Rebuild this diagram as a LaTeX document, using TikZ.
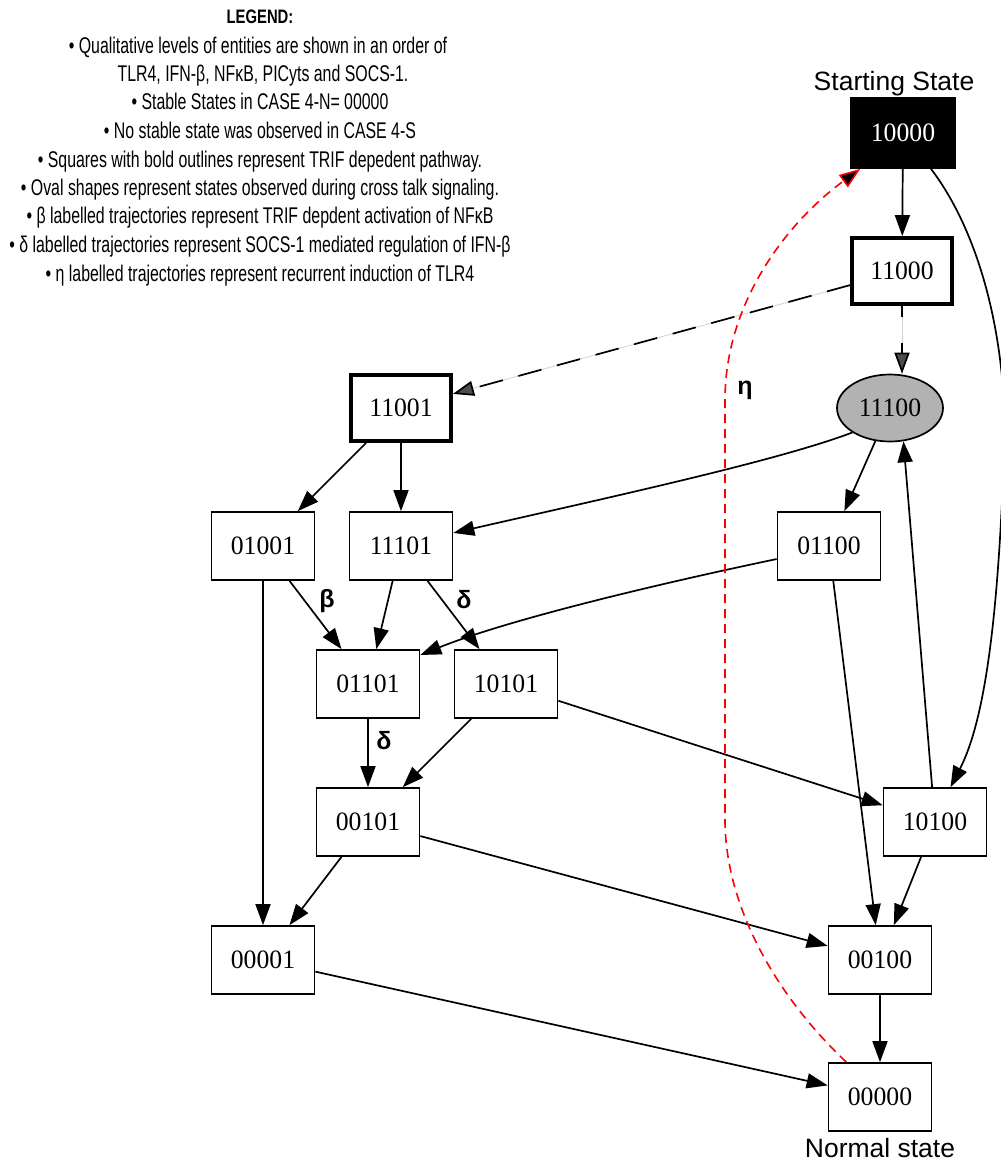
\documentclass[tikz,border=0pt]{standalone}
\usepackage{fontspec}
\setmainfont{Liberation Serif}[FakeStretch=0.97]
\newfontfamily\legfont[FakeStretch=0.70]{Liberation Sans}
\newfontfamily\legtitlefont[FakeStretch=0.76]{Liberation Sans}
\newfontfamily\lblfont{Liberation Sans}
\usetikzlibrary{arrows.meta,shapes.geometric}
\tikzset{
  state/.style={draw, line width=1.7pt, minimum width=103pt, minimum height=68pt, inner sep=0pt,
    font=\fontsize{26.5}{30}\selectfont},
  trif/.style={state, line width=3.8pt, minimum width=100pt, minimum height=66pt},
  start/.style={state, fill=black, text=white, minimum width=104pt, minimum height=70pt},
  oval/.style={ellipse, draw, line width=1.7pt, fill=black!30, minimum width=106pt, minimum height=67pt,
    inner sep=0pt, font=\fontsize{26.5}{30}\selectfont},
  legline/.style={anchor=base, inner sep=0pt, font=\legfont\fontsize{22.7}{26}\selectfont},
  legtitle/.style={anchor=base, inner sep=0pt, font=\legtitlefont\bfseries\fontsize{19.5}{23}\selectfont},
  caption/.style={anchor=base, inner sep=0pt, font=\lblfont\fontsize{26.5}{30}\selectfont},
  greek/.style={inner sep=0pt, font=\lblfont\bfseries\fontsize{25}{28}\selectfont},
  edge/.style={line width=1.7pt, -{Triangle[length=21pt,width=15pt]}},
  lightline/.style={line width=0.8pt, black!18},
  dashedge/.style={line width=1.7pt, -{Triangle[length=21pt,width=15pt,fill=black!70]}},
  etaedge/.style={line width=1.6pt, red, dash pattern=on 9pt off 6pt, -{Triangle[length=21pt,width=15pt,fill=black]}},
}
\begin{document}
\begin{tikzpicture}[x=1pt,y=-1pt]
\useasboundingbox (0,0) rectangle (1001,1163);

% legend
\node[legtitle] (leg0) at (260,23) {LEGEND:};
\node[legline] (leg1) at (258,53) {• Qualitative levels of entities are shown in an order of};
\node[legline] (leg2) at (263,81) {TLR4, IFN-β, NFκB, PICyts and SOCS-1.};
\node[legline] (leg3) at (260,109) {• Stable States in CASE 4-N= 00000};
\node[legline] (leg4) at (260,138) {• No stable state was observed in CASE 4-S};
\node[legline] (leg5) at (260,167) {• Squares with bold outlines represent TRIF depedent pathway.};
\node[legline] (leg6) at (260,195) {• Oval shapes represent states observed during cross talk signaling.};
\node[legline] (leg7) at (260,223) {• β labelled trajectories represent TRIF depdent activation of NFκB};
\node[legline] (leg8) at (260,252) {• δ labelled trajectories represent SOCS-1 mediated regulation of IFN-β};
\node[legline] (leg9) at (260,281) {• η labelled trajectories represent recurrent induction of TLR4};

% states
\node[start] (n10000) at (903,133) {10000};
\node[trif]  (n11000) at (902,271) {11000};
\node[oval]  (n11100) at (890,408) {11100};
\node[trif]  (n11001) at (401,408) {11001};
\node[state] (n01001) at (263,546) {01001};
\node[state] (n11101) at (401,546) {11101};
\node[state] (n01100) at (829,546) {01100};
\node[state] (n01101) at (368,684) {01101};
\node[state] (n10101) at (506,684) {10101};
\node[state] (n00101) at (368,822) {00101};
\node[state] (n10100) at (935,822) {10100};
\node[state] (n00001) at (263,960) {00001};
\node[state] (n00100) at (880,960) {00100};
\node[state] (n00000) at (880,1097) {00000};

\node[caption] (cap1) at (894,90) {Starting State};
\node[caption] (cap2) at (880,1157) {Normal state};

% edges
\draw[edge] (n10000) -- (n11000);
\draw[edge] (n10000.-52) .. controls (985,240) and (1012,360) .. (1003,480)
   .. controls (997,620) and (985,720) .. (n10100.66);
\draw[lightline] (n11000) -- (n11001);
\draw[dashedge, dash pattern=on 24pt off 16pt] (n11000) -- (n11001);
\draw[lightline] (n11000.south) -- (n11000.south |- n11100.north);
\draw[dashedge, dash pattern=on 11pt off 26pt] (n11000.south) -- (n11000.south |- n11100.north);
\draw[edge] (n11100.-147) .. controls (780,460) and (620,495) .. (n11101.14);
\draw[edge] (n11100) -- (n01100);
\draw[edge] (n11001) -- (n01001);
\draw[edge] (n11001) -- (n11101);
\draw[edge] (n01001) -- (n00001);
\draw[edge] (n01001) -- (n01101);
\draw[edge] (n11101) -- (n01101);
\draw[edge] (n11101) -- (n10101);
\draw[edge] (n01100.194) .. controls (700,575) and (520,615) .. (n01101.29);
\draw[edge] (n01100) -- (n00100);
\draw[edge] (n01101) -- (n00101);
\draw[edge] (n10101) -- (n00101);
\draw[edge] (n10101) -- (n10100);
\draw[edge] (n10100) -- (n11100.-68);
\draw[edge] (n10100) -- (n00100);
\draw[edge] (n00101) -- (n00001);
\draw[edge] (n00101) -- (n00100);
\draw[edge] (n00001) -- (n00000);
\draw[edge] (n00100) -- (n00000);
\draw[etaedge] (n00000.134) .. controls (770,990) and (725,900) .. (725,820)
   -- (725,400) .. controls (725,300) and (790,220) .. (n10000.-140);

% edge labels
\node[greek] (lbeta) at (327,601) {β};
\node[greek] (ldelta1) at (464,600) {δ};
\node[greek] (ldelta2) at (384,741) {δ};
\node[greek] (leta) at (745,390) {η};
\end{tikzpicture}
\end{document}
